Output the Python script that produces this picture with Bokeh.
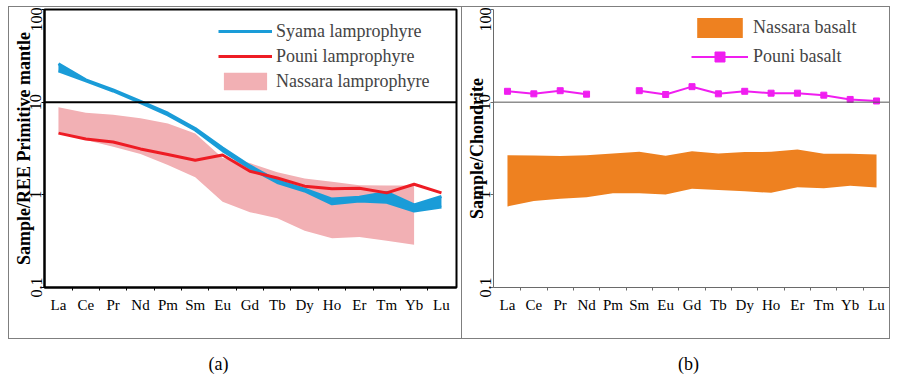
import math
from bokeh.plotting import figure
from bokeh.models import Span, Legend, LegendItem, FixedTicker, Spacer, Label
from bokeh.layouts import column, row
from bokeh.embed import file_html
from bokeh.resources import INLINE

NAN = float("nan")

# ---------------- data ----------------
elements = ["La", "Ce", "Pr", "Nd", "Pm", "Sm", "Eu", "Gd", "Tb", "Dy", "Ho", "Er", "Tm", "Yb", "Lu"]
yticks = [0.1, 1, 10, 100]
ytick_labels = ["0.1", "1", "10", "100"]

# (a) primitive-mantle normalised
syama_upper = [26.0, 17.4, 13.6, 10.2, 7.6, 5.2, 3.2, 2.05, 1.42, 1.15, 0.90, 0.94, 1.06, 0.78, 0.96]
syama_lower = [21.8, 17.0, 13.2, 9.9, 7.3, 5.0, 3.0, 1.95, 1.36, 1.10, 0.80, 0.86, 0.83, 0.67, 0.74]
pouni_lamprophyre = [4.63, 4.0, 3.72, 3.13, 2.72, 2.36, 2.69, 1.80, 1.52, 1.24, 1.16, 1.18, 1.05, 1.30, 1.05]
nassara_lamp_upper = [8.8, 7.7, 7.3, 6.7, 5.9, 4.6, 2.5, 2.2, 1.75, 1.5, 1.38, 1.27, 1.26, 1.26]
nassara_lamp_lower = [4.8, 3.9, 3.3, 2.75, 2.1, 1.55, 0.84, 0.65, 0.56, 0.41, 0.34, 0.35, 0.32, 0.29]

# (b) chondrite normalised
pouni_basalt = [13.1, 12.3, 13.3, 12.2, NAN, 13.3, 12.1, 14.7, 12.3, 13.1, 12.5, 12.5, 11.9, 10.7, 10.3]
nassara_basalt_upper = [2.68, 2.66, 2.62, 2.68, 2.79, 2.91, 2.64, 2.96, 2.79, 2.89, 2.91, 3.09, 2.77, 2.77, 2.73]
nassara_basalt_lower = [0.75, 0.86, 0.91, 0.94, 1.04, 1.04, 1.01, 1.16, 1.13, 1.09, 1.05, 1.21, 1.18, 1.25, 1.20]

# ---------------- styling ----------------
FONT = "Liberation Serif"
BLUE = "#1A9CD8"
RED = "#EE1C24"
PINK = "#F2B0B4"
ORANGE = "#EE8120"
MAGENTA = "#F01EF0"

xpos = list(range(len(elements)))
xlabels = {i: e for i, e in enumerate(elements)}
minor = [i + 0.5 for i in range(len(elements) - 1)]


def style_axes(p, axis_color, axis_width, title, title_standoff):
    p.xgrid.visible = False
    p.ygrid.visible = False
    xa = p.xaxis[0]
    xa.ticker = FixedTicker(ticks=xpos, minor_ticks=minor)
    xa.major_label_overrides = xlabels
    xa.major_tick_line_color = None
    xa.minor_tick_line_color = axis_color
    xa.minor_tick_in = 0
    xa.minor_tick_out = 3
    xa.major_label_standoff = 3
    xa.major_label_text_font = FONT
    xa.major_label_text_font_size = "15px"
    xa.major_label_text_color = "black"
    xa.axis_line_color = axis_color
    xa.axis_line_width = axis_width
    ya = p.yaxis[0]
    ya.ticker = FixedTicker(ticks=yticks)
    ya.major_label_overrides = dict(zip(yticks, ytick_labels))
    ya.major_label_orientation = "vertical"
    ya.major_label_text_font = FONT
    ya.major_label_text_font_size = "16px"
    ya.major_label_text_color = "black"
    ya.major_label_standoff = 0
    ya.major_tick_in = 0
    ya.major_tick_out = 3
    ya.major_tick_line_color = axis_color
    ya.minor_tick_line_color = None
    ya.axis_line_color = axis_color
    ya.axis_line_width = axis_width
    ya.axis_label = title
    ya.axis_label_text_font = FONT
    ya.axis_label_text_font_size = "18px"
    ya.axis_label_text_font_style = "bold"
    ya.axis_label_text_color = "black"
    ya.axis_label_standoff = title_standoff


# ---------------- panel (a) ----------------
p1 = figure(width=454, height=333, y_axis_type="log",
            x_range=(-0.51, 14.55), y_range=(0.1, 100),
            output_backend="svg", toolbar_location=None,
            min_border_left=35, min_border_right=7, min_border_top=2, min_border_bottom=53)
p1.outline_line_color = "black"
p1.outline_line_width = 2
style_axes(p1, "black", 2, "Sample/REE Primitive mantle", -6)
p1.styles = {"border": "1px solid #7f7f7f"}

n_lamp = len(nassara_lamp_upper)
r_nass = p1.varea(x=xpos[:n_lamp], y1=nassara_lamp_lower, y2=nassara_lamp_upper, fill_color=PINK)
p1.varea(x=xpos, y1=syama_lower, y2=syama_upper, fill_color=BLUE)
r_sy1 = p1.line(xpos, syama_upper, line_color=BLUE, line_width=3)
p1.line(xpos, syama_lower, line_color=BLUE, line_width=3)
r_pou = p1.line(xpos, pouni_lamprophyre, line_color=RED, line_width=3)
p1.add_layout(Span(location=10, dimension="width", line_color="black", line_width=2))

leg1 = Legend(items=[LegendItem(label="Syama lamprophyre", renderers=[r_sy1]),
                     LegendItem(label="Pouni lamprophyre", renderers=[r_pou]),
                     LegendItem(label="Nassara lamprophyre", renderers=[r_nass])],
              location=(174, 195), orientation="vertical",
              border_line_color=None, background_fill_alpha=0,
              label_text_font=FONT, label_text_font_size="18px",
              glyph_width=54, glyph_height=22, spacing=3, padding=0, margin=0,
              label_standoff=4)
p1.add_layout(leg1)

# ---------------- panel (b) ----------------
p2 = figure(width=428, height=333, y_axis_type="log",
            x_range=(-0.53, 14.53), y_range=(0.1, 100),
            output_backend="svg", toolbar_location=None,
            min_border_left=31, min_border_right=0, min_border_top=0, min_border_bottom=53)
p2.outline_line_color = None
style_axes(p2, "#6a6a6a", 1, "Sample/Chondrite", -10)
p2.styles = {"border-top": "1px solid #7f7f7f", "border-right": "1px solid #7f7f7f",
             "border-bottom": "1px solid #7f7f7f"}

r_nb = p2.varea(x=xpos, y1=nassara_basalt_lower, y2=nassara_basalt_upper, fill_color=ORANGE)
p2.add_layout(Span(location=10, dimension="width", line_color="#555555", line_width=1))
r_pb_l = p2.line(xpos, pouni_basalt, line_color=MAGENTA, line_width=2)
r_pb_m = p2.scatter(xpos, pouni_basalt, marker="square", size=6, fill_color=MAGENTA, line_color=MAGENTA)

leg2 = Legend(items=[LegendItem(label="Nassara basalt", renderers=[r_nb]),
                     LegendItem(label="Pouni basalt", renderers=[r_pb_l, r_pb_m])],
              location=(198, 218), orientation="vertical",
              border_line_color=None, background_fill_alpha=0,
              label_text_font=FONT, label_text_font_size="18px",
              glyph_width=57, glyph_height=25, spacing=4, padding=0, margin=0,
              label_standoff=5)
p2.add_layout(leg2)

# ---------------- captions ----------------
p3 = figure(width=898, height=42, x_range=(0, 898), y_range=(0, 42),
            output_backend="svg", toolbar_location=None,
            x_axis_location=None, y_axis_location=None, min_border=0)
p3.outline_line_color = None
p3.xgrid.visible = False
p3.ygrid.visible = False
for txt, xc in [("(a)", 218), ("(b)", 688)]:
    p3.add_layout(Label(x=xc, y=18, text=txt, text_font=FONT, text_font_size="18px",
                        text_align="center", text_baseline="middle", text_color="black"))

layout = column(Spacer(height=6), row(Spacer(width=8), p1, p2), p3)

open("out.html", "w").write(file_html(layout, INLINE))
